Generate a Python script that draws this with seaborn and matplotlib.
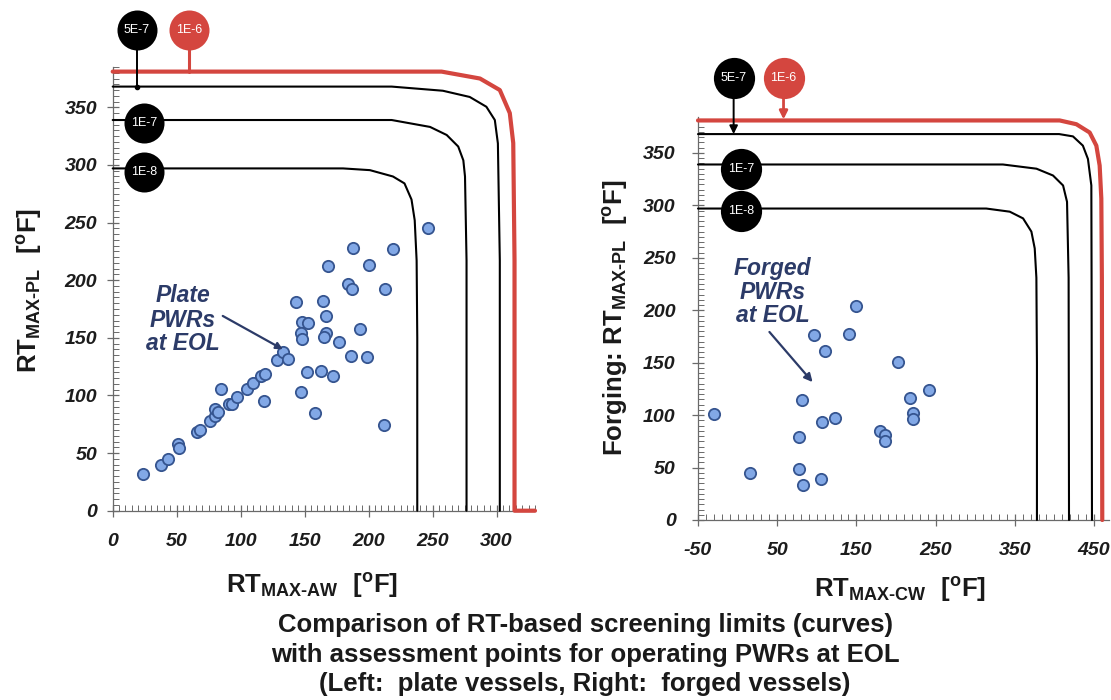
import matplotlib
matplotlib.use("Agg")
import matplotlib.pyplot as plt
import seaborn as sns
from matplotlib.ticker import MultipleLocator

# ---------------- data ----------------
# Plate vessels at EOL: RT_MAX-AW vs RT_MAX-PL (deg F)
plate_aw = [24, 38, 43, 51, 52, 66, 68, 76, 80, 80, 82, 85, 91, 93, 97, 105, 110, 116,
            119, 118, 128, 133, 137, 143, 148, 153, 147, 148, 147, 152, 158, 163, 172,
            164, 167, 167, 165, 168, 177, 184, 187, 188, 186, 193, 199, 200, 213, 212,
            219, 246]
plate_pl = [32, 40, 45, 58, 54, 68, 70, 78, 82, 88, 86, 106, 93, 93, 99, 106, 111, 117,
            119, 95, 131, 138, 132, 181, 164, 163, 154, 149, 103, 120, 85, 121, 117,
            182, 169, 154, 151, 212, 146, 197, 192, 228, 134, 158, 133, 213, 192, 74,
            227, 245]

# Forged vessels at EOL: RT_MAX-CW vs RT_MAX-PL (deg F)
forg_cw = [-30, 16, 77, 83, 105, 77, 81, 107, 123, 97, 110, 141, 150, 180, 186, 186,
           203, 218, 222, 222, 242]
forg_pl = [101, 45, 49, 33, 39, 79, 114, 93, 97, 176, 161, 177, 204, 85, 81, 75,
           151, 116, 102, 96, 124]

# Screening-limit curves, plate panel
pl_1e8_x = [0, 180, 201, 219, 228, 233.5, 236, 237.5, 238, 238]
pl_1e8_y = [297, 297, 295.5, 290, 284, 270, 252, 217, 150, 0]
pl_1e7_x = [0, 218, 248, 261, 270, 274, 275.3, 276.5, 276.5]
pl_1e7_y = [339, 339, 333, 326, 316, 304, 290, 217, 0]
pl_5e7_x = [0, 218, 258, 279, 292, 298.6, 301, 302.5, 302.5]
pl_5e7_y = [368, 368, 364.4, 359, 350.5, 339, 318.7, 217, 0]
pl_1e6_x = [0, 257, 287, 302.5, 310.3, 313, 314, 314, 330]
pl_1e6_y = [381, 381, 375, 365, 345, 319, 217, 0, 0]

# Screening-limit curves, forging panel
fg_1e8_x = [-50, 314, 343.7, 360.5, 371, 375.2, 377.3, 378, 378]
fg_1e8_y = [297, 297, 294, 287.6, 275, 259, 231, 150, 0]
fg_1e7_x = [-50, 335, 377.4, 398.3, 411, 416, 418, 418.5]
fg_1e7_y = [339, 339, 335, 328.5, 319, 303.4, 231, 0]
fg_5e7_x = [-50, 406, 423.5, 436, 442.4, 446.7, 447, 447.5]
fg_5e7_y = [368, 368, 365.8, 357, 344.3, 319, 231, 0]
fg_1e6_x = [-50, 406.7, 427.8, 444.6, 453, 457.2, 459.3, 460, 460.5]
fg_1e6_y = [381, 381, 377.4, 369.5, 357, 338, 306.5, 231, 0]

plate_xticks = [0, 50, 100, 150, 200, 250, 300]
forg_xticks = [-50, 50, 150, 250, 350, 450]
yticks = [0, 50, 100, 150, 200, 250, 300, 350]

caption = ["Comparison of RT-based screening limits (curves)",
           "with assessment points for operating PWRs at EOL",
           "(Left:  plate vessels, Right:  forged vessels)"]

# ---------------- style ----------------
sns.set_theme(style="white")
plt.rcParams['font.family'] = ['Liberation Sans', 'DejaVu Sans']
plt.rcParams['axes.unicode_minus'] = False
plt.rcParams['mathtext.fontset'] = 'custom'
plt.rcParams['mathtext.rm'] = 'Liberation Sans:bold'
plt.rcParams['mathtext.bf'] = 'Liberation Sans:bold'
plt.rcParams['mathtext.it'] = 'Liberation Sans:bold:italic'

RED = '#d4463f'
PT_FACE = '#82a8e6'
PT_EDGE = '#35548f'
NAVY = '#2c3b68'
SPINE = '#6a6a6a'

W, H = 1111, 700
fig = plt.figure(figsize=(W / 100, H / 100), dpi=100)
fig.patch.set_facecolor('white')


def px_axes(x0, x1, y_top, y_bot):
    return fig.add_axes([x0 / W, 1 - y_bot / H, (x1 - x0) / W, (y_bot - y_top) / H])


ax1 = px_axes(112.7, 535, 67, 510.7)
ax2 = px_axes(698, 1109, 117.3, 520)


def style_axes(ax, xmin, xmax, ymax, xticks, xminor, ypad, xpad):
    ax.set_xlim(xmin, xmax)
    ax.set_ylim(0, ymax)
    for s in ['top', 'right']:
        ax.spines[s].set_visible(False)
    for s in ['left', 'bottom']:
        ax.spines[s].set_color(SPINE)
        ax.spines[s].set_linewidth(0.9)
    ax.set_xticks(xticks)
    ax.set_yticks(yticks)
    ax.xaxis.set_minor_locator(MultipleLocator(xminor))
    ax.yaxis.set_minor_locator(MultipleLocator(5))
    ax.tick_params(which='major', direction='inout', length=8, width=0.9,
                   color=SPINE, labelsize=14, labelcolor='#1c1c1c')
    ax.tick_params(which='minor', direction='in', length=4, width=0.7, color=SPINE)
    ax.tick_params(axis='y', which='major', pad=ypad)
    ax.tick_params(axis='x', which='major', pad=xpad)
    ax.tick_params(bottom=True, left=True, which='both')
    for lab in ax.get_xticklabels() + ax.get_yticklabels():
        lab.set_fontweight('bold')
        lab.set_fontstyle('italic')
    ax.set_xlabel('')
    ax.set_ylabel('')
    ax.patch.set_alpha(0)


def draw_curves(ax, curves):
    for xs, ys, color, lw in curves:
        sns.lineplot(x=xs, y=ys, sort=False, estimator=None, ax=ax, color=color,
                     linewidth=lw, zorder=3, legend=False)
    for ln in ax.lines:
        ln.set_clip_on(False)


def badge(ax, x, y, text, color, size):
    ax.scatter([x], [y], s=size, color=color, zorder=6, clip_on=False, linewidths=0)
    ax.text(x, y, text, color='white', fontsize=9, ha='center', va='center',
            zorder=7, clip_on=False)


# ---------------- left: plate vessels ----------------
draw_curves(ax1, [(pl_1e8_x, pl_1e8_y, 'black', 1.5),
                  (pl_1e7_x, pl_1e7_y, 'black', 1.5),
                  (pl_5e7_x, pl_5e7_y, 'black', 1.5),
                  (pl_1e6_x, pl_1e6_y, RED, 3.0)])
sns.scatterplot(x=plate_aw, y=plate_pl, ax=ax1, s=66, color=PT_FACE,
                edgecolor=PT_EDGE, linewidth=1.3, zorder=4, legend=False)
style_axes(ax1, 0, 330, 385, plate_xticks, 5, ypad=7, xpad=12)

ax1.plot([19, 19], [400, 368], color='black', lw=1.4, clip_on=False, zorder=5)
ax1.plot([19], [368], 'o', color='black', ms=3, clip_on=False, zorder=5)
ax1.plot([60, 60], [400, 381], color=RED, lw=2.2, clip_on=False, zorder=5)
badge(ax1, 19, 417, '5E-7', 'black', 830)
badge(ax1, 60, 417, '1E-6', RED, 830)
badge(ax1, 24.7, 336, '1E-7', 'black', 830)
badge(ax1, 24.7, 294, '1E-8', 'black', 830)

for txt, yy in [('Plate', 186.6), ('PWRs', 165), ('at EOL', 145)]:
    ax1.text(55, yy, txt, color=NAVY, fontsize=16.5, fontweight='bold',
             fontstyle='italic', ha='center', va='center', zorder=5)
ax1.annotate('', xy=(133, 140), xytext=(86, 169),
             arrowprops=dict(arrowstyle='-|>', color=NAVY, lw=1.6,
                             mutation_scale=10, shrinkA=0, shrinkB=0), zorder=5)

# ---------------- right: forged vessels ----------------
draw_curves(ax2, [(fg_1e8_x, fg_1e8_y, 'black', 1.5),
                  (fg_1e7_x, fg_1e7_y, 'black', 1.5),
                  (fg_5e7_x, fg_5e7_y, 'black', 1.5),
                  (fg_1e6_x, fg_1e6_y, RED, 3.0)])
sns.scatterplot(x=forg_cw, y=forg_pl, ax=ax2, s=66, color=PT_FACE,
                edgecolor=PT_EDGE, linewidth=1.3, zorder=4, legend=False)
style_axes(ax2, -50, 469, 384, forg_xticks, 10, ypad=12, xpad=12)

ax2.annotate('', xy=(-5, 368), xytext=(-5, 402),
             arrowprops=dict(arrowstyle='-|>', color='black', lw=1.4,
                             mutation_scale=12, shrinkA=0, shrinkB=0),
             annotation_clip=False, zorder=5)
ax2.annotate('', xy=(58, 382), xytext=(58, 402),
             arrowprops=dict(arrowstyle='-|>', color=RED, lw=2.0,
                             mutation_scale=12, shrinkA=0, shrinkB=0),
             annotation_clip=False, zorder=5)
badge(ax2, -5, 421.5, '5E-7', 'black', 880)
badge(ax2, 58, 421.5, '1E-6', RED, 880)
badge(ax2, 4, 335, '1E-7', 'black', 880)
badge(ax2, 4, 295, '1E-8', 'black', 880)

for txt, yy in [('Forged', 239.8), ('PWRs', 216.6), ('at EOL', 195.2)]:
    ax2.text(44, yy, txt, color=NAVY, fontsize=16.5, fontweight='bold',
             fontstyle='italic', ha='center', va='center', zorder=5)
ax2.annotate('', xy=(94.7, 131.5), xytext=(40.2, 179.3),
             arrowprops=dict(arrowstyle='-|>', color=NAVY, lw=1.6,
                             mutation_scale=12, shrinkA=0, shrinkB=0), zorder=5)

# ---------------- axis titles and caption ----------------
lab_pl = r'$\mathrm{RT}_{\mathrm{MAX\text{-}PL}}\ \ [^{\mathrm{o}}\mathrm{F}]$'
lab_aw = r'$\mathrm{RT}_{\mathrm{MAX\text{-}AW}}\ \ [^{\mathrm{o}}\mathrm{F}]$'
lab_cw = r'$\mathrm{RT}_{\mathrm{MAX\text{-}CW}}\ \ [^{\mathrm{o}}\mathrm{F}]$'
lab_fpl = r'Forging: $\mathrm{RT}_{\mathrm{MAX\text{-}PL}}\ \ [^{\mathrm{o}}\mathrm{F}]$'

fig.text(30 / W, 1 - 290 / H, lab_pl, rotation=90, ha='center', va='center',
         fontsize=18.5, color='#1a1a1a')
fig.text(312 / W, 1 - 585 / H, lab_aw, ha='center', va='center',
         fontsize=18.5, color='#1a1a1a')
fig.text(900 / W, 1 - 590 / H, lab_cw, ha='center', va='center',
         fontsize=18.5, color='#1a1a1a')
fig.text(615 / W, 1 - 318 / H, lab_fpl, rotation=90, ha='center', va='center',
         fontsize=18.5, fontweight='bold', color='#1a1a1a')

for line, yy in zip(caption, [625, 655, 684]):
    fig.text(585 / W, 1 - yy / H, line, ha='center', va='center', fontsize=18.5,
             fontweight='bold', color='#1a1a1a')

fig.savefig('out.png', dpi=100, facecolor='white')
